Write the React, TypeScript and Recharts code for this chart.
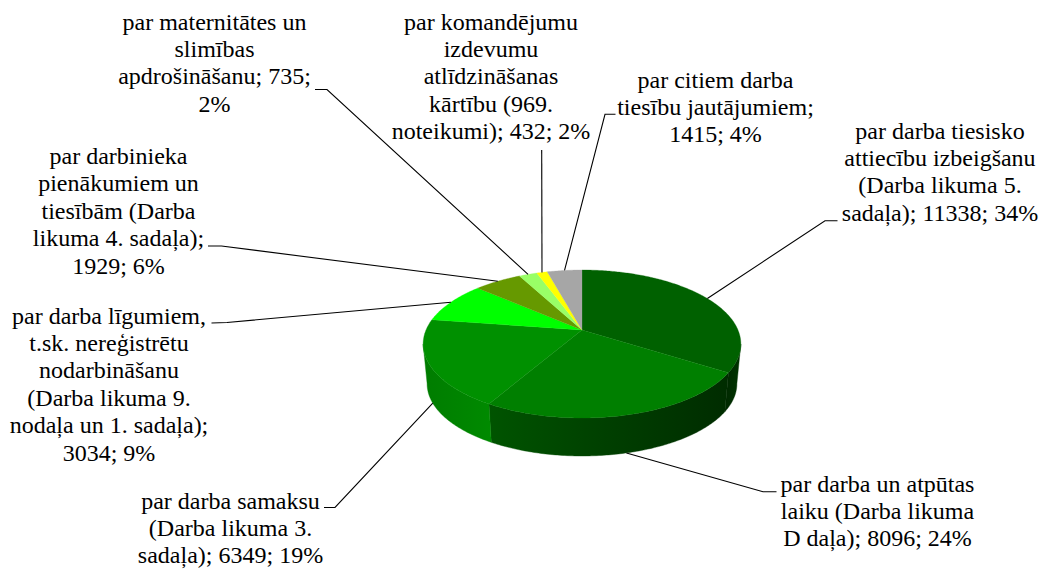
import React from "react";
import { PieChart, Pie } from "recharts";

const categories = [
  "par darba tiesisko attiecību izbeigšanu (Darba likuma 5. sadaļa)",
  "par darba un atpūtas laiku (Darba likuma D daļa)",
  "par darba samaksu (Darba likuma 3. sadaļa)",
  "par darba līgumiem, t.sk. nereģistrētu nodarbināšanu (Darba likuma 9. nodaļa un 1. sadaļa)",
  "par darbinieka pienākumiem un tiesībām (Darba likuma 4. sadaļa)",
  "par maternitātes un slimības apdrošināšanu",
  "par komandējumu izdevumu atlīdzināšanas kārtību (969. noteikumi)",
  "par citiem darba tiesību jautājumiem",
];
const values = [11338, 8096, 6349, 3034, 1929, 735, 432, 1415];
const labelLines = [
  ["par darba tiesisko", "attiecību izbeigšanu", "(Darba likuma 5.", "sadaļa); 11338; 34%"],
  ["par darba un atpūtas", "laiku (Darba likuma", "D daļa); 8096; 24%"],
  ["par darba samaksu", "(Darba likuma 3.", "sadaļa); 6349; 19%"],
  ["par darba līgumiem,", "t.sk. nereģistrētu", "nodarbināšanu", "(Darba likuma 9.", "nodaļa un 1. sadaļa);", "3034; 9%"],
  ["par darbinieka", "pienākumiem un", "tiesībām (Darba", "likuma 4. sadaļa);", "1929; 6%"],
  ["par maternitātes un", "slimības", "apdrošināšanu; 735;", "2%"],
  ["par komandējumu", "izdevumu", "atlīdzināšanas", "kārtību (969.", "noteikumi); 432; 2%"],
  ["par citiem darba", "tiesību jautājumiem;", "1415; 4%"],
];

// Styling and layout, separate from the data.
const topColors = ["#006100", "#007f00", "#009000", "#00ff00", "#669900", "#99ff66", "#ffff00", "#a6a6a6"];
const sideColors: (string[] | null)[] = [
  ["#002800", "#003400"],
  ["#005400", "#003f00", "#002c00"],
  ["#007c00", "#008a00"],
  null, null, null, null, null,
];
const labelAnchors = [
  { x: 940, y: 138.5 },
  { x: 877.5, y: 491.5 },
  { x: 230.5, y: 508.5 },
  { x: 109, y: 323.5 },
  { x: 118.5, y: 164 },
  { x: 214.5, y: 29.5 },
  { x: 491, y: 29.5 },
  { x: 715.5, y: 87.5 },
];
const leaderKnees = [
  [[825, 220.7], [837.5, 220.7]],
  [[763, 491.7], [776.5, 491.7]],
  [[335, 507.5], [324, 507.5]],
  [[227, 322.5], [211.5, 323]],
  [[221.5, 246], [208, 246]],
  [[327, 89.5], [315, 89.5]],
  [[541.7, 150]],
  [[605, 114.3], [615.5, 114.3]],
];
const leaderFromBase = [false, true, true, false, false, false, false, false];

const FONT = "'Liberation Serif', 'Times New Roman', serif";
const FONT_SIZE = 24;
const LINE_GAP = 27.4;

const table = categories.map((name, i) => ({ name, value: values[i] }));

// Perspective projection of the pie's disc.
const PERSPECTIVE = 0.189;
const FLATTEN = 71.35 / 156;
const BASE_DROP = 40.2;
const BASE_SCALE = 0.975;

function project(cx: number, cy: number, r: number, thetaDeg: number, base: boolean) {
  const t = (thetaDeg * Math.PI) / 180;
  const u = Math.sin(t);
  const v = Math.cos(t);
  const w = 1 + PERSPECTIVE * v;
  const s = base ? BASE_SCALE : 1;
  return {
    x: cx + (s * r * u) / w,
    y: cy + (base ? BASE_DROP : 0) - (s * r * FLATTEN * v) / w,
  };
}

function arcPoints(cx: number, cy: number, r: number, a: number, b: number, base: boolean) {
  const n = Math.max(2, Math.ceil(Math.abs(b - a) / 0.75));
  const pts: string[] = [];
  for (let i = 0; i <= n; i++) {
    const p = project(cx, cy, r, a + ((b - a) * i) / n, base);
    pts.push(`${p.x.toFixed(2)} ${p.y.toFixed(2)}`);
  }
  return pts;
}

const FRONT_FROM = 100.9;
const FRONT_TO = 259.1;

function Slice(props: any) {
  const { cx, cy, outerRadius: r, startAngle, endAngle } = props;
  const idx = categories.indexOf(props.name ?? props.payload?.name);
  const a = 90 - startAngle;
  const b = 90 - endAngle;
  const top = arcPoints(cx, cy, r, a, b, false);
  const fill = topColors[idx];
  const from = Math.max(a, FRONT_FROM);
  const to = Math.min(b, FRONT_TO);
  const stops = sideColors[idx];
  let side = null;
  if (to > from && stops) {
    const upper = arcPoints(cx, cy, r, from, to, false);
    const lower = arcPoints(cx, cy, r, from, to, true).reverse();
    const xs = [...upper, ...lower].map((s) => parseFloat(s));
    const id = `side-${idx}`;
    side = (
      <>
        <defs>
          <linearGradient id={id} gradientUnits="userSpaceOnUse" x1={Math.min(...xs)} x2={Math.max(...xs)} y1={0} y2={0}>
            {stops.map((c, i) => (
              <stop key={i} offset={i / (stops.length - 1)} stopColor={c} />
            ))}
          </linearGradient>
        </defs>
        <path d={`M${[...upper, ...lower].join("L")}Z`} fill={`url(#${id})`} stroke={`url(#${id})`} strokeWidth={0.4} />
      </>
    );
  }
  return (
    <g>
      {side}
      <path d={`M${cx} ${cy}L${top.join("L")}Z`} fill={fill} stroke={fill} strokeWidth={0.3} />
    </g>
  );
}

function renderLabel(props: any) {
  const idx = categories.indexOf(props.name ?? props.payload?.name);
  const anchor = labelAnchors[idx];
  return (
    <text
      key={`label-${idx}`}
      x={anchor.x}
      y={anchor.y}
      textAnchor="middle"
      fontFamily={FONT}
      fontSize={FONT_SIZE}
      fill="#000"
    >
      {labelLines[idx].map((line, i) => (
        <tspan key={i} x={anchor.x} y={anchor.y + i * LINE_GAP}>
          {line}
        </tspan>
      ))}
    </text>
  );
}

function renderLeader(props: any) {
  const idx = categories.indexOf(props.name ?? props.payload?.name);
  const start = project(props.cx, props.cy, props.outerRadius, 90 - props.midAngle, leaderFromBase[idx]);
  const pts = [[start.x, start.y], ...leaderKnees[idx]];
  return (
    <polyline
      key={`leader-${idx}`}
      points={pts.map((p) => p.join(",")).join(" ")}
      fill="none"
      stroke="#000"
      strokeWidth={1.1}
    />
  );
}

export default function App() {
  return (
    <div style={{ position: "absolute", left: 0, top: 0, width: 1051, height: 570, background: "#fff" }}>
      <PieChart width={1051} height={570} margin={{ top: 0, right: 0, bottom: 0, left: 0 }}>
        <Pie
          data={table}
          dataKey="value"
          nameKey="name"
          cx={582}
          cy={330}
          outerRadius={156}
          innerRadius={0}
          startAngle={90}
          endAngle={-270}
          paddingAngle={0}
          stroke="none"
          isAnimationActive={false}
          shape={Slice}
          label={renderLabel}
          labelLine={renderLeader}
        />
      </PieChart>
    </div>
  );
}
